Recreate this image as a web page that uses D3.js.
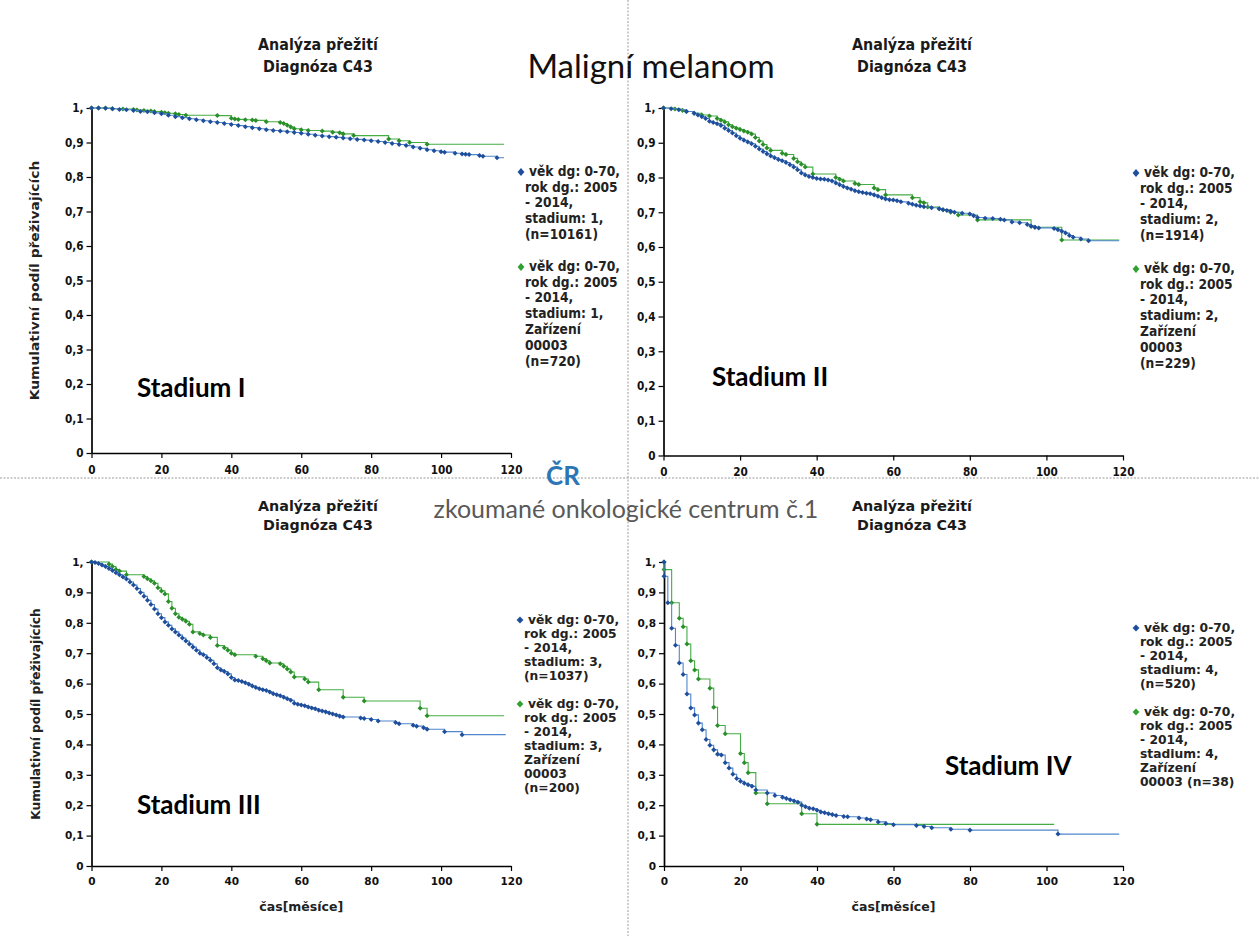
<!DOCTYPE html>
<html><head><meta charset="utf-8">
<script src="https://cdn.jsdelivr.net/npm/d3@7"></script>
<style>body{margin:0;background:#fff}svg{display:block}</style>
</head><body>
<svg id="c" width="1259" height="936"></svg>
<script>
// ---------- DATA ----------
const xTicks = [0, 20, 40, 60, 80, 100, 120];
const yTicks = [0, 0.1, 0.2, 0.3, 0.4, 0.5, 0.6, 0.7, 0.8, 0.9, 1];
const yTickLabels = ["0", "0,1", "0,2", "0,3", "0,4", "0,5", "0,6", "0,7", "0,8", "0,9", "1,"];

const chartTitle = ["Analýza přežití", "Diagnóza C43"];
const stageNames = ["Stadium I", "Stadium II", "Stadium III", "Stadium IV"];
const yAxisTitle = "Kumulativní podíl přeživajících";
const xAxisTitle = "čas[měsíce]";

// Stadium I
const s1Blue = [[0,1],[2,1],[4,0.999],[6,0.998],[8,0.996],[10,0.995],[12,0.993],[14,0.99],[16,0.989],[18,0.986],[20,0.983],[22,0.979],[24,0.975],[26,0.972],[28,0.969],[30,0.966],[32,0.963],[34,0.96],[36,0.958],[38,0.955],[40,0.952],[42,0.949],[44,0.946],[46,0.943],[48,0.94],[50,0.937],[52,0.935],[54,0.933],[56,0.931],[58,0.929],[60,0.927],[62,0.924],[64,0.921],[66,0.919],[68,0.917],[70,0.915],[72,0.913],[74,0.911],[76,0.909],[78,0.907],[80,0.905],[82,0.903],[84,0.9],[86,0.897],[88,0.894],[90,0.891],[92,0.887],[94,0.883],[96,0.879],[98,0.876],[100,0.873],[101,0.872],[104,0.869],[106,0.867],[107,0.866],[108,0.865],[111,0.862],[112,0.86],[116,0.856]];
const s1Green = [[0,1],[2,1],[4,1],[6,0.998],[9,0.997],[12,0.996],[13,0.994],[15,0.993],[17,0.991],[18,0.99],[20,0.988],[21,0.986],[22,0.985],[24,0.983],[25,0.981],[27,0.979],[36,0.978],[40,0.97],[41,0.968],[42,0.967],[44,0.966],[46,0.965],[47,0.964],[50,0.96],[54,0.958],[55,0.955],[56,0.95],[57,0.945],[58,0.94],[60,0.937],[62,0.935],[66,0.933],[69,0.93],[71,0.928],[72,0.925],[75,0.92],[85,0.91],[88,0.905],[91,0.9],[96,0.895]];
// Stadium II
const s2Blue = [[0,1],[2,0.998],[4,0.995],[6,0.99],[8,0.985],[9,0.98],[10,0.975],[11,0.97],[12,0.962],[13,0.958],[14,0.955],[15,0.95],[16,0.942],[17,0.935],[18,0.928],[19,0.92],[20,0.913],[21,0.907],[22,0.902],[23,0.897],[24,0.89],[25,0.882],[26,0.875],[27,0.868],[28,0.862],[29,0.857],[30,0.852],[31,0.848],[32,0.843],[33,0.837],[34,0.83],[35,0.822],[36,0.813],[37,0.807],[38,0.803],[39,0.8],[40,0.797],[41,0.796],[42,0.795],[43,0.793],[44,0.79],[45,0.784],[46,0.779],[47,0.774],[48,0.77],[49,0.766],[50,0.762],[51,0.759],[52,0.757],[53,0.755],[54,0.753],[55,0.75],[56,0.746],[57,0.742],[58,0.738],[59,0.736],[60,0.735],[61,0.733],[62,0.73],[64,0.726],[65,0.723],[66,0.72],[67,0.718],[68,0.716],[70,0.713],[72,0.71],[73,0.707],[74,0.705],[75,0.703],[76,0.7],[78,0.697],[80,0.695],[81,0.69],[82,0.685],[84,0.683],[86,0.682],[88,0.68],[89,0.678],[91,0.672],[93,0.67],[95,0.665],[96,0.66],[97,0.657],[98,0.655],[102,0.653],[103,0.65],[104,0.645],[105,0.64],[106,0.633],[107,0.628],[109,0.623],[111,0.618]];
const s2Green = [[0,1],[3,0.997],[5,0.993],[6,0.99],[8,0.985],[10,0.98],[12,0.977],[14,0.97],[15,0.965],[16,0.96],[17,0.952],[18,0.946],[19,0.942],[20,0.938],[21,0.934],[22,0.93],[23,0.925],[24,0.915],[25,0.905],[26,0.895],[27,0.885],[28,0.878],[31,0.87],[32,0.866],[34,0.855],[35,0.845],[36,0.838],[37,0.83],[39,0.81],[45,0.8],[46,0.795],[47,0.79],[50,0.783],[51,0.78],[55,0.77],[56,0.765],[58,0.75],[65,0.742],[67,0.73],[68,0.727],[69,0.715],[72,0.71],[73,0.707],[75,0.7],[77,0.692],[82,0.678],[96,0.66],[97,0.657],[104,0.62]];
// Stadium III
const s3Blue = [[0,1],[1,0.998],[2,0.995],[3,0.99],[4,0.985],[5,0.979],[6,0.972],[7,0.965],[8,0.958],[9,0.951],[10,0.944],[11,0.934],[12,0.924],[13,0.913],[14,0.9],[15,0.887],[16,0.874],[17,0.86],[18,0.845],[19,0.83],[20,0.817],[21,0.803],[22,0.792],[23,0.78],[24,0.77],[25,0.76],[26,0.75],[27,0.74],[28,0.73],[29,0.72],[30,0.71],[31,0.7],[32,0.695],[33,0.686],[34,0.677],[35,0.665],[36,0.652],[37,0.645],[38,0.64],[39,0.632],[40,0.62],[41,0.612],[42,0.61],[43,0.607],[44,0.603],[45,0.598],[46,0.592],[47,0.587],[48,0.583],[49,0.58],[50,0.577],[51,0.572],[52,0.567],[53,0.563],[54,0.56],[55,0.555],[56,0.55],[57,0.545],[58,0.535],[59,0.532],[60,0.53],[61,0.527],[62,0.523],[63,0.52],[64,0.517],[65,0.512],[66,0.51],[67,0.507],[68,0.503],[69,0.5],[70,0.497],[71,0.493],[72,0.49],[77,0.487],[78,0.485],[80,0.482],[82,0.477],[87,0.472],[88,0.468],[92,0.463],[93,0.46],[95,0.455],[96,0.45],[101,0.442],[106,0.432]];
const s3Green = [[0,1],[5,0.993],[6,0.985],[7,0.975],[8,0.97],[10,0.958],[15,0.952],[16,0.945],[17,0.938],[18,0.93],[19,0.915],[20,0.905],[21,0.895],[22,0.87],[23,0.848],[24,0.83],[25,0.818],[26,0.812],[27,0.805],[28,0.795],[29,0.77],[31,0.765],[32,0.76],[34,0.752],[36,0.725],[38,0.718],[39,0.71],[40,0.7],[41,0.695],[47,0.69],[49,0.682],[50,0.675],[51,0.668],[54,0.665],[55,0.657],[56,0.648],[57,0.638],[58,0.622],[61,0.615],[62,0.605],[65,0.58],[72,0.555],[78,0.543],[94,0.519],[96,0.494]];
// Stadium IV
const s4Blue = [[0,1],[0,0.953],[1,0.866],[2,0.782],[3,0.726],[4,0.668],[5,0.63],[6,0.566],[7,0.52],[8,0.497],[9,0.47],[10,0.448],[11,0.416],[12,0.397],[13,0.382],[14,0.368],[15,0.365],[16,0.34],[17,0.322],[18,0.302],[19,0.288],[20,0.279],[21,0.272],[22,0.267],[23,0.262],[24,0.25],[27,0.24],[29,0.232],[31,0.226],[32,0.222],[33,0.218],[34,0.214],[35,0.21],[36,0.2],[37,0.195],[38,0.19],[39,0.188],[40,0.183],[41,0.178],[42,0.175],[43,0.172],[44,0.169],[45,0.166],[47,0.163],[48,0.162],[51,0.158],[53,0.155],[54,0.152],[56,0.145],[58,0.14],[60,0.136],[66,0.133],[68,0.13],[70,0.126],[75,0.121],[80,0.118],[103,0.105]];
const s4Green = [[0,1],[0,0.975],[2,0.866],[4,0.815],[5,0.787],[6,0.73],[7,0.675],[8,0.645],[9,0.615],[12,0.585],[13,0.522],[14,0.462],[16,0.435],[20,0.37],[21,0.34],[22,0.307],[24,0.24],[27,0.205],[36,0.172],[40,0.137]];

const blueEnd = [118, 119, 118.5, 119];
const greenEnd = [118, 119, 118, 102];

const legendBlue = [
  ["věk dg: 0-70,", "rok dg.: 2005", "- 2014,", "stadium: 1,", "(n=10161)"],
  ["věk dg: 0-70,", "rok dg.: 2005", "- 2014,", "stadium: 2,", "(n=1914)"],
  ["věk dg: 0-70,", "rok dg.: 2005", "- 2014,", "stadium: 3,", "(n=1037)"],
  ["věk dg: 0-70,", "rok dg.: 2005", "- 2014,", "stadium: 4,", "(n=520)"]
];
const legendGreen = [
  ["věk dg: 0-70,", "rok dg.: 2005", "- 2014,", "stadium: 1,", "Zařízení", "00003", "(n=720)"],
  ["věk dg: 0-70,", "rok dg.: 2005", "- 2014,", "stadium: 2,", "Zařízení", "00003", "(n=229)"],
  ["věk dg: 0-70,", "rok dg.: 2005", "- 2014,", "stadium: 3,", "Zařízení", "00003", "(n=200)"],
  ["věk dg: 0-70,", "rok dg.: 2005", "- 2014,", "stadium: 4,", "Zařízení", "00003 (n=38)"]
];
const blueSeries = [s1Blue, s2Blue, s3Blue, s4Blue];
const greenSeries = [s1Green, s2Green, s3Green, s4Green];

// ---------- LAYOUT ----------
const W = 1259, H = 936;
const COL = {blueLine: "#4f86cc", blueMark: "#1f4f9c", greenLine: "#45ad45", greenMark: "#2a8f2a", greenLeg: "#33a033"};
// sy = vertical stretch of the exported chart image (top charts are stretched)
const layout = [
  {x0: 91.5, x1: 511, yb: 453, yt: 108, sy: 1.135, tx: 318, leg: [521, 172, 267], stage: [137, 397], yLab: true, xLab: false},
  {x0: 663.5, x1: 1123, yb: 455.5, yt: 108, sy: 1.135, tx: 912, leg: [1136, 173, 269], stage: [712, 386], yLab: false, xLab: false},
  {x0: 91.5, x1: 511, yb: 866, yt: 562, sy: 1, tx: 318, leg: [520, 620, 704], stage: [137, 814], yLab: true, xLab: true},
  {x0: 664, x1: 1123, yb: 866, yt: 562, sy: 1, tx: 912, leg: [1136, 628, 712], stage: [945, 775], yLab: false, xLab: true}
];

const svg = d3.select("#c");
svg.append("rect").attr("width", W).attr("height", H).attr("fill", "#fff");

// separators
svg.append("line").attr("x1", 628).attr("x2", 628).attr("y1", 0).attr("y2", H)
  .attr("stroke", "#9a9a9a").attr("stroke-dasharray", "2,1.5").attr("stroke-width", 1);
svg.append("line").attr("x1", 0).attr("x2", W).attr("y1", 478).attr("y2", 478)
  .attr("stroke", "#9a9a9a").attr("stroke-dasharray", "2,1.5").attr("stroke-width", 1);

const VF = "'DejaVu Sans', Verdana, sans-serif";
const CF = "Lato, 'Open Sans', sans-serif";
const diamond = d3.symbol().type(d3.symbolDiamond2);

// text helper: placed at (x,y), stretched vertically by sy
function stext(g, x, y, sy, t, size, opts = {}) {
  return g.append("text")
    .attr("transform", `translate(${x},${y}) scale(1,${sy})${opts.rot ? " rotate(" + opts.rot + ")" : ""}`)
    .attr("text-anchor", opts.anchor || "start").attr("dominant-baseline", "middle")
    .attr("font-family", VF).attr("font-weight", "bold").attr("font-size", size)
    .attr("fill", opts.fill || "#1a1a1a").text(t);
}

layout.forEach((L, i) => {
  const x = d3.scaleLinear().domain([0, 120]).range([L.x0, L.x1]);
  const y = d3.scaleLinear().domain([0, 1]).range([L.yb, L.yt]);
  const g = svg.append("g");
  const sy = L.sy;

  // titles
  stext(g, L.tx, L.yt - 55 * sy, sy, chartTitle[0], 14.3, {anchor: "middle"});
  stext(g, L.tx, L.yt - 36 * sy, sy, chartTitle[1], 14.3, {anchor: "middle"});

  // axes
  const ya = d3.axisLeft(y).tickValues(yTicks).tickFormat((d, j) => yTickLabels[j]).tickSize(5).tickSizeOuter(0).tickPadding(3);
  const xa = d3.axisBottom(x).tickValues(xTicks).tickFormat(d3.format("d")).tickSize(5).tickSizeOuter(0).tickPadding(sy > 1 ? 6 : 7);
  const gy = g.append("g").attr("transform", `translate(${L.x0},0)`).call(ya);
  const gx = g.append("g").attr("transform", `translate(0,${L.yb})`).call(xa);
  [gy, gx].forEach(a => {
    a.select(".domain").attr("stroke", "#000").attr("stroke-width", 1.7);
    a.selectAll(".tick line").attr("stroke", "#000").attr("stroke-width", 1.2);
    a.selectAll(".tick text").attr("font-family", VF).attr("font-weight", "bold").attr("font-size", 10.5)
      .attr("fill", "#111").attr("transform", `scale(1,${sy})`);
  });

  if (L.yLab) stext(g, 36, (L.yt + L.yb) / 2, sy, yAxisTitle, 12.2, {anchor: "middle", rot: -90, fill: "#222"});
  if (L.xLab) stext(g, (L.x0 + L.x1) / 2, L.yb + 41, sy, xAxisTitle, 12.5, {anchor: "middle", fill: "#222"});

  // curves
  const line = d3.line().x(d => x(d[0])).y(d => y(d[1])).curve(d3.curveStepAfter);
  const drawSeries = (pts, end, lc, mc) => {
    const full = pts.concat([[end, pts[pts.length - 1][1]]]);
    g.append("path").attr("d", line(full)).attr("fill", "none").attr("stroke", lc).attr("stroke-width", 1.1);
    g.selectAll(null).data(pts).enter().append("path")
      .attr("d", diamond.size(16)())
      .attr("transform", d => `translate(${x(d[0])},${y(d[1])})`)
      .attr("fill", mc);
  };
  drawSeries(greenSeries[i], greenEnd[i], COL.greenLine, COL.greenMark);
  drawSeries(blueSeries[i], blueEnd[i], COL.blueLine, COL.blueMark);

  // legend
  const drawLegend = (lines, y0, mc) => {
    g.append("path").attr("d", diamond.size(30)()).attr("transform", `translate(${L.leg[0]},${y0}) scale(1,${sy})`).attr("fill", mc);
    lines.forEach((t, k) => {
      stext(g, L.leg[0] + (k === 0 ? 8 : 4), y0 + k * 14 * sy, sy, t, 12.3, {fill: "#222"});
    });
  };
  drawLegend(legendBlue[i], L.leg[1], COL.blueMark);
  drawLegend(legendGreen[i], L.leg[2], COL.greenLeg);

  // stage label
  g.append("text").attr("x", L.stage[0]).attr("y", L.stage[1])
    .attr("font-family", CF).attr("font-weight", "bold").attr("font-size", 26).attr("fill", "#000").text(stageNames[i]);
});

// centre labels
svg.append("text").attr("x", 651).attr("y", 70).attr("text-anchor", "middle").attr("dominant-baseline", "middle")
  .attr("font-family", CF).attr("font-size", 33).attr("fill", "#111").text("Maligní melanom");
svg.append("text").attr("x", 563).attr("y", 485).attr("text-anchor", "middle")
  .attr("font-family", CF).attr("font-weight", "bold").attr("font-size", 26).attr("fill", "#2E75B6").text("ČR");
svg.append("text").attr("x", 626).attr("y", 518).attr("text-anchor", "middle")
  .attr("font-family", CF).attr("font-size", 25).attr("fill", "#595959").text("zkoumané onkologické centrum č.1");
</script>
</body></html>
